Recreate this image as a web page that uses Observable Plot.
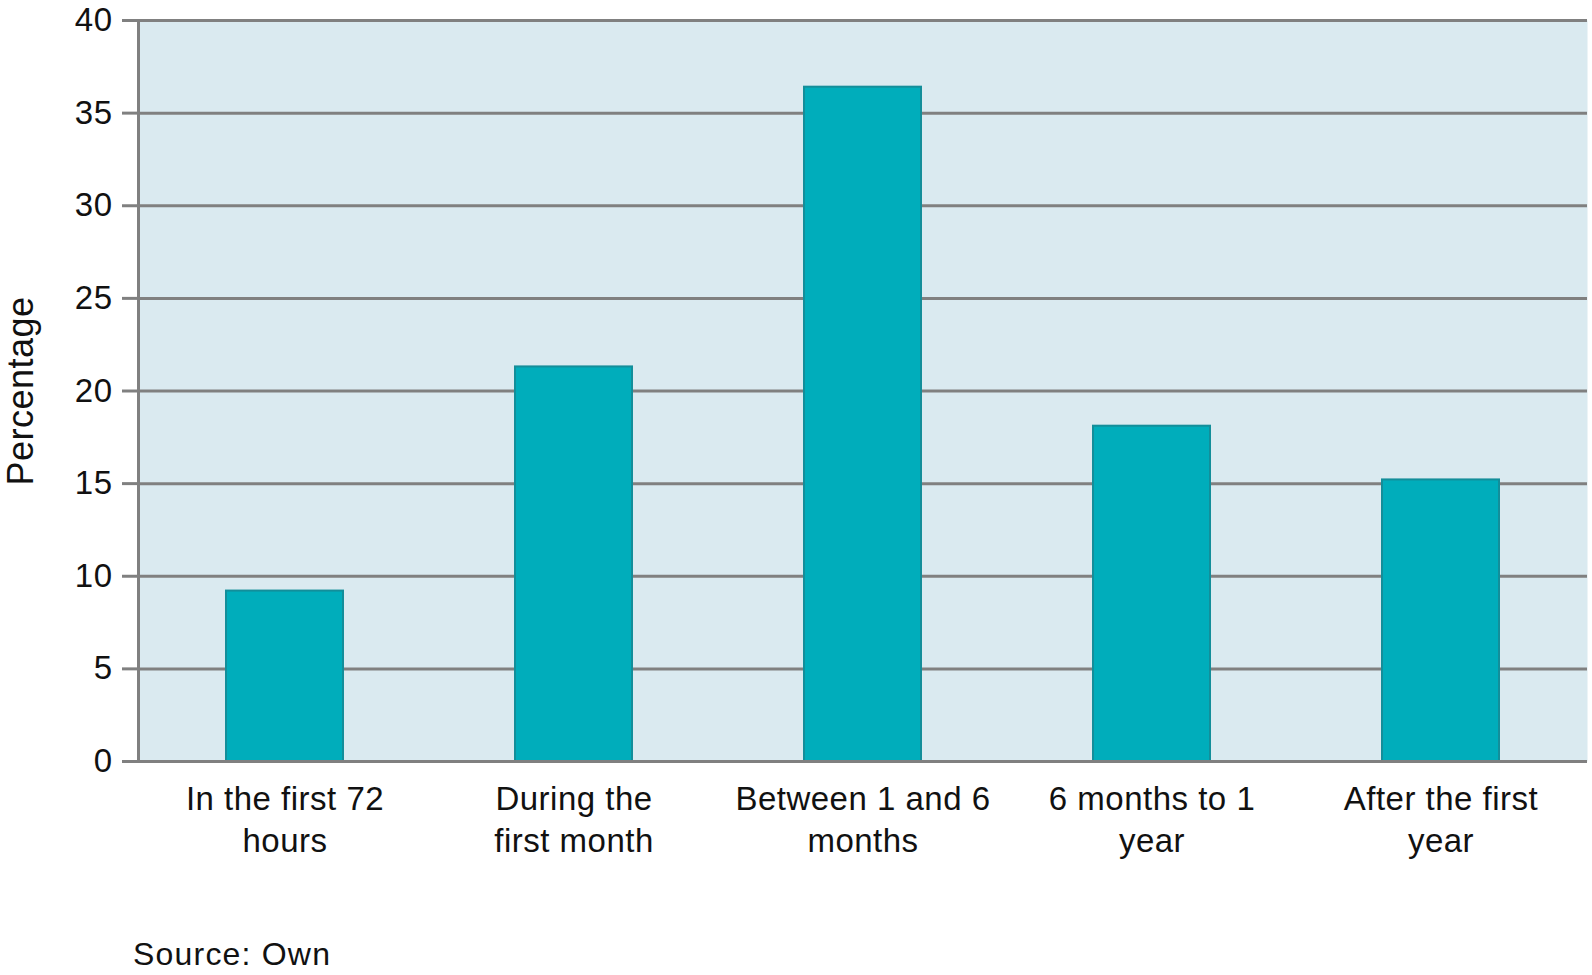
<!DOCTYPE html>
<html>
<head>
<meta charset="utf-8">
<script src="https://cdn.jsdelivr.net/npm/d3@7"></script>
<script src="https://cdn.jsdelivr.net/npm/@observablehq/plot@0.6"></script>
<style>
  html, body { margin: 0; padding: 0; background: #fff; }
  #wrap { position: relative; width: 1592px; height: 975px; }
  #caption { position: absolute; left: 133px; top: 938px; font: 32px "Liberation Sans", Arial, sans-serif; letter-spacing: 1.2px; line-height: 32px; color: #111; }
</style>
</head>
<body>
<div id="wrap">
  <div id="chart"></div>
  <div id="caption">Source: Own</div>
</div>
<script>
const categories = ["In the first 72 hours", "During the first month", "Between 1 and 6 months", "6 months to 1 year", "After the first year"];
const tickLabels = ["In the first 72\nhours", "During the\nfirst month", "Between 1 and 6\nmonths", "6 months to 1\nyear", "After the first\nyear"];
const values = [9.2, 21.3, 36.4, 18.1, 15.2];
const yTicks = [0, 5, 10, 15, 20, 25, 30, 35, 40];
const yLabel = "Percentage";

const data = categories.map((c, i) => ({category: c, value: values[i]}));
const labelOf = new Map(categories.map((c, i) => [c, tickLabels[i]]));

const chart = Plot.plot({
  width: 1592,
  height: 900,
  marginLeft: 138,
  marginRight: 5,
  marginTop: 20,
  marginBottom: 139,
  style: {fontFamily: "'Liberation Sans', Arial, sans-serif", fontSize: "33px", color: "#111", background: "#fff", letterSpacing: "0.5px"},
  x: {domain: categories, paddingInner: 0.596, paddingOuter: 0.298, label: null},
  y: {domain: [0, 40], label: null},
  marks: [
    Plot.frame({fill: "#daeaf0", stroke: null}),
    Plot.gridY(yTicks, {stroke: "#808080", strokeOpacity: 1, strokeWidth: 3}),
    Plot.barY(data, {x: "category", y: "value", fill: "#00adbb", stroke: "#138e9a", strokeWidth: 2}),
    Plot.ruleY([0], {stroke: "#808080", strokeWidth: 3}),
    Plot.frame({anchor: "left", stroke: "#808080", strokeWidth: 3}),
    Plot.axisY(yTicks, {tickSize: 16, tickPadding: 10, stroke: "#808080", strokeWidth: 3, fill: "#111", label: null, tickFormat: d => String(d)}),
    Plot.axisX({tickSize: 0, tickPadding: 19, fill: "#111", label: null, lineHeight: 1.26, tickFormat: d => labelOf.get(d)}),
    Plot.text([yLabel], {frameAnchor: "left", textAnchor: "middle", rotate: -90, dx: -117, fill: "#111", fontSize: 36, text: d => d, ariaLabel: "y-label"})
  ]
});
d3.select(chart).selectAll("g[aria-label='y-label'] text").style("letter-spacing", "2.5px");
document.getElementById("chart").appendChild(chart);
</script>
</body>
</html>
